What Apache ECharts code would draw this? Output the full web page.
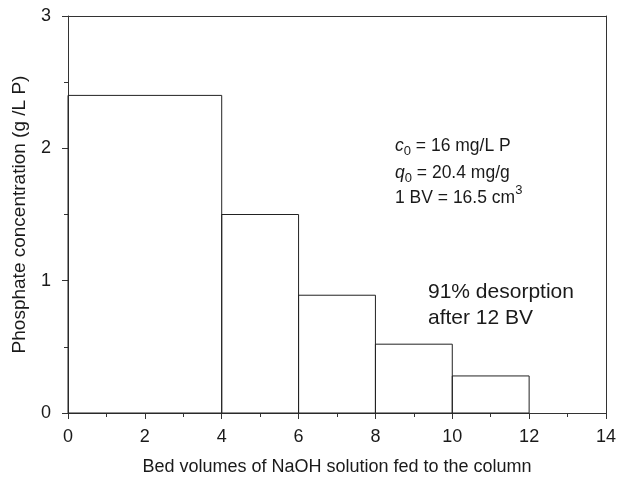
<!DOCTYPE html>
<html><head><meta charset="utf-8">
<script src="https://cdn.jsdelivr.net/npm/echarts@6/dist/echarts.min.js"></script>
<style>html,body{margin:0;padding:0;background:#fff}#c{width:619px;height:481px}</style>
</head><body><div id="c"></div>
<script>
const binStarts = [0, 4, 6, 8, 10];
const binEnds = [4, 6, 8, 10, 12];
const concentrations = [2.4, 1.5, 0.89, 0.52, 0.28];
const xTicks = [0, 2, 4, 6, 8, 10, 12, 14];
const yTicks = [0, 1, 2, 3];

const F = 'Liberation Sans, Arial, sans-serif';
const chart = echarts.init(document.getElementById('c'));
const data = binStarts.map((s, i) => [s, binEnds[i], concentrations[i]]);
const axisCol = '#333';
const txt = '#1a1a1a';
chart.setOption({
  animation: false,
  grid: {left: 68, right: 12, top: 16, bottom: 68},
  xAxis: [{
    type: 'value', min: 0, max: 14, interval: 2,
    name: 'Bed volumes of NaOH solution fed to the column',
    nameLocation: 'middle', nameGap: 45,
    nameTextStyle: {fontFamily: F, fontSize: 18, color: txt},
    axisLine: {show: true, onZero: false, lineStyle: {color: axisCol, width: 1}},
    axisTick: {show: true, length: 6, lineStyle: {color: axisCol}},
    minorTick: {show: true, splitNumber: 2, length: 4, lineStyle: {color: axisCol}},
    splitLine: {show: false},
    axisLabel: {fontFamily: F, fontSize: 18, color: txt, margin: 15}
  }, {
    type: 'value', min: 0, max: 14, position: 'top',
    axisLine: {show: true, onZero: false, lineStyle: {color: axisCol, width: 1}},
    axisTick: {show: false}, axisLabel: {show: false}, splitLine: {show: false}
  }],
  yAxis: [{
    type: 'value', min: 0, max: 3, interval: 1,
    name: 'Phosphate concentration (g /L P)',
    nameLocation: 'middle', nameGap: 39,
    nameTextStyle: {fontFamily: F, fontSize: 19, color: txt},
    axisLine: {show: true, onZero: false, lineStyle: {color: axisCol, width: 1}},
    axisTick: {show: true, length: 6, lineStyle: {color: axisCol}},
    minorTick: {show: true, splitNumber: 2, length: 4, lineStyle: {color: axisCol}},
    splitLine: {show: false},
    axisLabel: {fontFamily: F, fontSize: 18, color: txt, margin: 17}
  }, {
    type: 'value', min: 0, max: 3, position: 'right',
    axisLine: {show: true, onZero: false, lineStyle: {color: axisCol, width: 1}},
    axisTick: {show: false}, axisLabel: {show: false}, splitLine: {show: false}
  }],
  series: [{
    type: 'custom',
    data: data,
    renderItem: function (params, api) {
      const p0 = api.coord([api.value(0), api.value(2)]);
      const p1 = api.coord([api.value(1), 0]);
      return {
        type: 'rect',
        shape: {x: p0[0], y: p0[1], width: p1[0] - p0[0], height: p1[1] - p0[1]},
        style: {fill: 'none', stroke: '#222', lineWidth: 1}
      };
    },
    encode: {x: [0, 1], y: 2}
  }],
  graphic: [
    {type: 'text', left: 395, top: 137, style: {
      text: '{i|c}{s|0}{n| = 16 mg/L P}',
      rich: {i: {fontFamily: F, fontSize: 17.5, fontStyle: 'italic', fill: txt},
             s: {fontFamily: F, fontSize: 13, fill: txt, padding: [10, 0, 0, 0]},
             n: {fontFamily: F, fontSize: 17.5, fill: txt}}}},
    {type: 'text', left: 395, top: 164, style: {
      text: '{i|q}{s|0}{n| = 20.4 mg/g}',
      rich: {i: {fontFamily: F, fontSize: 17.5, fontStyle: 'italic', fill: txt},
             s: {fontFamily: F, fontSize: 13, fill: txt, padding: [10, 0, 0, 0]},
             n: {fontFamily: F, fontSize: 17.5, fill: txt}}}},
    {type: 'text', left: 395, top: 184, style: {
      text: '{n|1 BV = 16.5 cm}{p|3}',
      rich: {n: {fontFamily: F, fontSize: 17.5, fill: txt, padding: [6, 0, 0, 0]},
             p: {fontFamily: F, fontSize: 13, fill: txt, padding: [0, 0, 10, 0]}}}},
    {type: 'text', left: 428, top: 279, style: {
      text: '91% desorption\nafter 12 BV', fontFamily: F, fontSize: 21, fill: txt, lineHeight: 26}}
  ]
});
</script></body></html>
